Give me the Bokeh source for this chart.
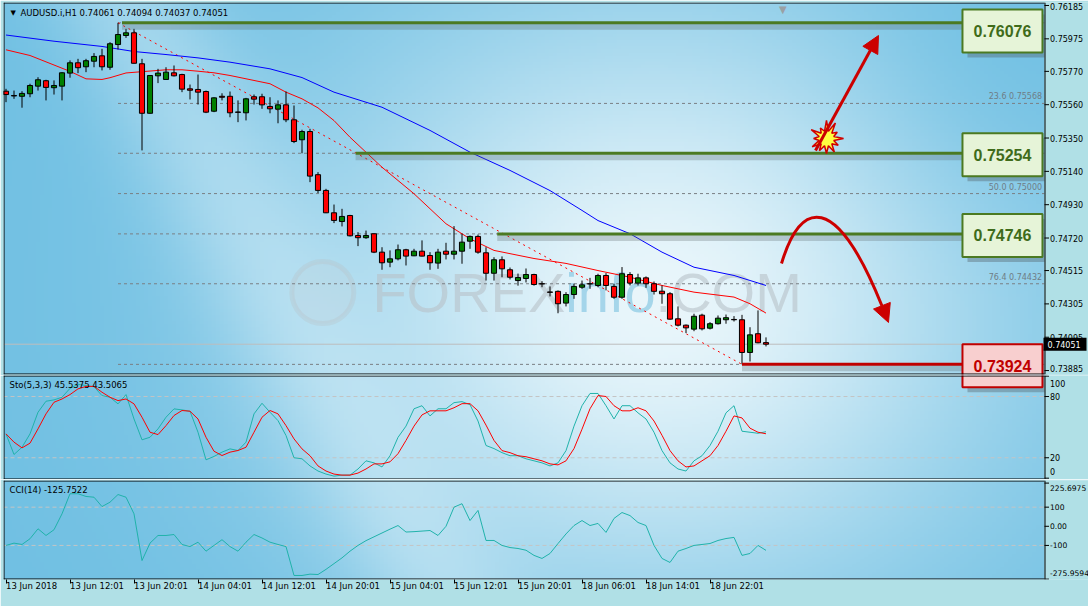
import numpy as np
from bokeh.plotting import figure
from bokeh.layouts import column
from bokeh.models import (Range1d, FixedTicker, Label, Arrow, NormalHead,
                          ColumnDataSource)
from bokeh.core.properties import value
from bokeh.embed import file_html
from bokeh.resources import INLINE

# ---------------------------------------------------------------- data
symbol = "AUDUSD.i"
timeframe = "H1"

opens = [0.75645, 0.75618, 0.75613, 0.75629, 0.75677, 0.75711, 0.75667, 0.75677,
         0.75759, 0.75824, 0.75799, 0.75834, 0.75868, 0.75796, 0.75939, 0.75996,
         0.76013, 0.75818, 0.75506, 0.75742, 0.75719, 0.75761, 0.75750, 0.75660,
         0.75656, 0.75643, 0.75519, 0.75613, 0.75613, 0.75514, 0.75509, 0.75610,
         0.75610, 0.75549, 0.75532, 0.75559, 0.75465, 0.75339, 0.75391, 0.75119,
         0.75020, 0.74879, 0.74824, 0.74862, 0.74736, 0.74722, 0.74747, 0.74631,
         0.74568, 0.74589, 0.74646, 0.74608, 0.74637, 0.74610, 0.74562, 0.74637,
         0.74618, 0.74637, 0.74700, 0.74730, 0.74627, 0.74498, 0.74583, 0.74520,
         0.74452, 0.74465, 0.74490, 0.74432, 0.74380, 0.74384, 0.74310, 0.74364,
         0.74410, 0.74432, 0.74421, 0.74484, 0.74415, 0.74347, 0.74490, 0.74436,
         0.74469, 0.74432, 0.74385, 0.74369, 0.74211, 0.74171, 0.74146, 0.74234,
         0.74152, 0.74180, 0.74205, 0.74207, 0.74205, 0.73999, 0.74117, 0.74061]
highs = [0.75660, 0.75649, 0.75645, 0.75692, 0.75733, 0.75717, 0.75713, 0.75765,
         0.75839, 0.75849, 0.75849, 0.75885, 0.75912, 0.75954, 0.76076, 0.76038,
         0.76038, 0.75849, 0.75746, 0.75786, 0.75796, 0.75807, 0.75755, 0.75687,
         0.75750, 0.75649, 0.75607, 0.75632, 0.75643, 0.75587, 0.75603, 0.75624,
         0.75629, 0.75607, 0.75587, 0.75643, 0.75555, 0.75402, 0.75408, 0.75135,
         0.75030, 0.74931, 0.74904, 0.74866, 0.74757, 0.74767, 0.74750, 0.74662,
         0.74642, 0.74679, 0.74652, 0.74652, 0.74705, 0.74631, 0.74652, 0.74690,
         0.74795, 0.74747, 0.74736, 0.74742, 0.74662, 0.74599, 0.74604, 0.74534,
         0.74496, 0.74528, 0.74495, 0.74448, 0.74415, 0.74390, 0.74379, 0.74432,
         0.74452, 0.74469, 0.74495, 0.74499, 0.74432, 0.74537, 0.74505, 0.74495,
         0.74478, 0.74446, 0.74421, 0.74379, 0.74289, 0.74175, 0.74243, 0.74243,
         0.74190, 0.74232, 0.74238, 0.74228, 0.74236, 0.74158, 0.74264, 0.74094]
lows = [0.75576, 0.75597, 0.75541, 0.75607, 0.75649, 0.75587, 0.75624, 0.75587,
        0.75730, 0.75759, 0.75765, 0.75796, 0.75776, 0.75780, 0.75908, 0.75981,
        0.75820, 0.75272, 0.75504, 0.75696, 0.75717, 0.75738, 0.75639, 0.75593,
        0.75561, 0.75507, 0.75513, 0.75587, 0.75481, 0.75450, 0.75461, 0.75561,
        0.75534, 0.75506, 0.75443, 0.75450, 0.75318, 0.75254, 0.75072, 0.75003,
        0.74877, 0.74814, 0.74793, 0.74730, 0.74669, 0.74715, 0.74625, 0.74520,
        0.74536, 0.74579, 0.74547, 0.74606, 0.74604, 0.74520, 0.74526, 0.74585,
        0.74585, 0.74558, 0.74652, 0.74621, 0.74452, 0.74452, 0.74473, 0.74459,
        0.74420, 0.74440, 0.74420, 0.74410, 0.74352, 0.74246, 0.74289, 0.74337,
        0.74400, 0.74400, 0.74410, 0.74390, 0.74337, 0.74337, 0.74421, 0.74421,
        0.74406, 0.74364, 0.74306, 0.74205, 0.74163, 0.74121, 0.74133, 0.74138,
        0.74144, 0.74175, 0.74180, 0.74194, 0.73924, 0.73942, 0.74057, 0.74037]
closes = [0.75624, 0.75615, 0.75631, 0.75681, 0.75717, 0.75669, 0.75681, 0.75761,
          0.75824, 0.75793, 0.75837, 0.75864, 0.75799, 0.75944, 0.76002, 0.76013,
          0.75821, 0.75506, 0.75744, 0.75759, 0.75765, 0.75742, 0.75658, 0.75651,
          0.75639, 0.75513, 0.75603, 0.75607, 0.75509, 0.75512, 0.75597, 0.75595,
          0.75559, 0.75534, 0.75559, 0.75465, 0.75328, 0.75391, 0.75110, 0.75020,
          0.74879, 0.74831, 0.74856, 0.74734, 0.74722, 0.74736, 0.74631, 0.74564,
          0.74589, 0.74646, 0.74606, 0.74637, 0.74606, 0.74564, 0.74631, 0.74618,
          0.74637, 0.74694, 0.74730, 0.74631, 0.74498, 0.74583, 0.74526, 0.74473,
          0.74471, 0.74490, 0.74427, 0.74431, 0.74378, 0.74306, 0.74364, 0.74415,
          0.74425, 0.74431, 0.74484, 0.74421, 0.74347, 0.74495, 0.74436, 0.74469,
          0.74432, 0.74384, 0.74369, 0.74209, 0.74171, 0.74154, 0.74227, 0.74148,
          0.74180, 0.74215, 0.74218, 0.74205, 0.73999, 0.74110, 0.74060, 0.74051]

# moving averages read at sample bars
ma_red_bars = [0, 3, 8, 10, 12, 13, 15, 17, 20, 22, 24, 26, 28, 33, 35, 37, 39,
               41, 43, 47, 51, 55, 58, 61, 66, 70, 74, 78, 82, 86, 91, 93, 95]
ma_red = [0.75906, 0.75870, 0.75770, 0.75723, 0.75719, 0.75730, 0.75760, 0.75768,
          0.75780, 0.75780, 0.75771, 0.75761, 0.75744, 0.75692, 0.75639, 0.75597,
          0.75540, 0.75460, 0.75355, 0.75166, 0.74999, 0.74810, 0.74715, 0.74642,
          0.74591, 0.74560, 0.74515, 0.74473, 0.74421, 0.74379, 0.74348, 0.74306,
          0.74247]
ma_blue_bars = [0, 6, 12, 16, 20, 24, 28, 33, 37, 41, 47, 53, 58, 63, 68, 72, 74,
                78, 82, 86, 91, 95]
ma_blue = [0.75999, 0.75960, 0.75927, 0.75895, 0.75876, 0.75855, 0.75828, 0.75786,
           0.75731, 0.75639, 0.75544, 0.75398, 0.75261, 0.75146, 0.75019, 0.74894,
           0.74830, 0.74747, 0.74631, 0.74536, 0.74484, 0.74421]

sto_main = [43.4, 23.2, 30.3, 43.4, 64.6, 75.4, 76.7, 79.3,
            88.0, 92.0, 90.7, 89.6, 80.9, 79.3, 72.8, 81.9,
            58.0, 37.6, 40.1, 48.3, 59.7, 67.9, 66.9, 65.6,
            45.0, 18.0, 21.3, 25.5, 28.7, 27.1, 35.3, 63.0,
            73.4, 64.6, 56.4, 41.8, 20.0, 19.0, 12.0, 7.0,
            4.0, 2.0, 3.0, 3.0, 9.0, 17.0, 15.0, 11.0,
            22.0, 40.0, 51.0, 68.0, 71.0, 61.0, 68.0, 68.0,
            74.0, 75.0, 72.0, 56.0, 32.0, 29.0, 25.0, 22.0,
            22.0, 19.0, 17.0, 15.0, 12.0, 15.0, 27.0, 51.0,
            71.0, 83.0, 83.0, 71.0, 58.0, 71.0, 71.0, 64.0,
            58.0, 45.0, 27.0, 15.0, 9.0, 7.0, 17.0, 22.0,
            32.0, 46.0, 64.0, 71.0, 46.0, 45.0, 44.0, 45.5375]
sto_signal = [43.4, 35.3, 29.7, 34.3, 48.3, 63.0, 74.4, 77.6,
              81.9, 87.5, 89.9, 89.9, 84.2, 79.3, 76.0, 77.6,
              72.8, 59.7, 45.0, 42.7, 51.5, 61.4, 66.3, 65.6,
              58.0, 40.1, 26.4, 22.2, 25.5, 27.1, 30.3, 45.0,
              59.7, 66.3, 63.0, 51.5, 38.5, 28.7, 22.0, 12.0,
              7.0, 4.0, 3.0, 3.0, 5.0, 9.0, 14.0, 14.0,
              16.0, 24.0, 37.0, 51.0, 62.0, 66.0, 66.0, 66.0,
              69.0, 73.0, 73.0, 66.0, 52.0, 37.0, 27.0, 25.0,
              22.0, 21.0, 19.0, 17.0, 14.0, 13.0, 17.0, 29.0,
              48.0, 68.0, 81.0, 80.0, 71.0, 66.0, 66.0, 69.0,
              66.0, 56.0, 42.0, 27.0, 17.0, 11.0, 12.0, 17.0,
              22.0, 32.0, 46.0, 61.0, 59.0, 49.0, 45.0, 43.5065]
cci = [-100, -88, -95, -65, -13, -48, -18, 65,
       170, 170, 156, 152, 103, 126, 166, 152,
       65, -179, -88, -48, -48, -43, -95, -106,
       -83, -130, -100, -70, -106, -130, -83, -43,
       -61, -83, -95, -106, -257, -257, -250, -252,
       -225, -195, -165, -130, -100, -75, -55, -35,
       -15, 4, -30, -28, -25, -22, -48, 0,
       100, 118, 30, 83, -74, -74, -100, -111,
       -116, -125, -152, -168, -142, -90, -40, 4,
       30, 4, 15, -32, 41, 72, 56, 20,
       4, -100, -168, -189, -130, -116, -100, -95,
       -90, -74, -64, -58, -152, -142, -100, -125.7522]

time_tick_bars = [0, 8, 16, 24, 32, 40, 48, 56, 64, 72, 80, 88]
time_tick_labels = ["13 Jun 2018", "13 Jun 12:01", "13 Jun 20:01", "14 Jun 04:01",
                    "14 Jun 12:01", "14 Jun 20:01", "15 Jun 04:01", "15 Jun 12:01",
                    "15 Jun 20:01", "18 Jun 06:01", "18 Jun 14:01", "18 Jun 22:01"]
price_ticks = [0.76185, 0.75975, 0.75770, 0.75560, 0.75350, 0.75140, 0.74930,
               0.74720, 0.74515, 0.74305, 0.74095, 0.73885]
sto_ticks = [100, 80, 20, 0]
cci_ticks = [225.6975, 100, 0, -100, -275.9594]
cci_tick_labels = ["225.6975", "100", "0.00", "-100", "-275.9594"]

swing_high_bar, swing_high = 14, 0.76076
swing_low_bar, swing_low = 92, 0.73924
fib_levels = [0.0, 23.6, 38.2, 50.0, 61.8, 76.4, 100.0]
fib_labelled = [23.6, 50.0, 76.4]

key_levels = [0.76076, 0.75254, 0.74746]
key_level_start = [14.5, 43.7, 61.4]
support_level = 0.73924
support_start = 92.0

sto_params = "Sto(5,3,3)"
cci_params = "CCI(14)"

# ---------------------------------------------------------------- layout
FONT = "DejaVu Sans"
FS = "8.5px"
PX_PER_BAR = 8.0
DXP = 1.0 / PX_PER_BAR          # bars per pixel
LEFT = 3                         # canvas px left of the panels
PANEL_W = 1041                   # panel width in px
AXW = 44                         # price-axis strip width in px
X0 = -0.3125
X1 = X0 + PANEL_W * DXP
X1M = X1 + AXW * DXP
FULL_W = PANEL_W + AXW
OUTER = "#b0e0e6"
MAIN_H, STO_H, CCI_H = 372, 104, 99
PY1 = 0.762039
PY0 = PY1 - MAIN_H / 15872.0
PRICE_PX = MAIN_H / (PY1 - PY0)
SY0, SY1 = -1.3, 100.6
CY0, CY1 = -278.0, 239.3
n = len(opens)
assert all(len(a) == n for a in (highs, lows, closes, sto_main, sto_signal, cci))
bars = list(range(n))
shared_x = Range1d(X0, X1M)


def wallpaper(y_top_px, y_bot_px, rows, cols=260):
    xs = np.linspace(3, 1044, cols)
    ys = np.linspace(y_bot_px, y_top_px, rows)
    X, Y = np.meshgrid(xs, ys)
    u = X / 1044.0
    v = Y / 578.0
    f = np.exp(-((u - 0.63) / 0.33) ** 2 - ((v - 0.52) / 0.52) ** 2)
    band = 0.38 * np.exp(-((u - 0.12 - 0.30 * v) / 0.08) ** 2)
    f = np.clip(f + band * (1 - f), 0, 1)
    corner = np.exp(-((u - 1.0) / 0.16) ** 2 - ((v - 0.02) / 0.30) ** 2)
    f = f * (1 - 0.75 * corner)
    dark = np.array([112, 192, 227], dtype=float)
    light = np.array([233, 246, 251], dtype=float)
    rgb = dark[None, None, :] + (light - dark)[None, None, :] * f[..., None]
    img = np.empty((rows, cols, 4), dtype=np.uint8)
    img[..., :3] = np.clip(rgb, 0, 255).astype(np.uint8)
    img[..., 3] = 255
    return img.view(np.uint32).reshape(rows, cols)


def panel(frame_h, y0, y1, top, bottom, x_axis=None):
    fig = figure(frame_width=FULL_W, frame_height=frame_h, x_range=shared_x,
                 y_range=Range1d(y0, y1), x_axis_location=x_axis, y_axis_location=None,
                 min_border_left=LEFT, min_border_right=0, min_border_top=top,
                 min_border_bottom=bottom, title=None, output_backend="svg",
                 toolbar_location=None)
    fig.grid.visible = False
    fig.outline_line_color = None
    fig.border_fill_color = OUTER
    fig.background_fill_color = OUTER
    return fig


def price_axis(fig, y0, y1, frame_h, ticks, labels, top_pad, bot_pad, fs="8px"):
    dy = (y1 - y0) / frame_h
    k = len(ticks)
    fig.quad(left=[X1], right=[X1M], bottom=[y0], top=[y1], fill_color=OUTER,
             line_color=None)
    fig.segment(x0=[X0 + 0.5 * DXP, X0, X0], y0=[y0, y1 - 0.5 * dy, y0 + 0.5 * dy],
                x1=[X0 + 0.5 * DXP, X1, X1], y1=[y1, y1 - 0.5 * dy, y0 + 0.5 * dy],
                line_color="black", line_width=1)
    fig.segment(x0=[X1 + 0.5 * DXP], y0=[y0], x1=[X1 + 0.5 * DXP], y1=[y1],
                line_color="black", line_width=1)
    fig.segment(x0=[X1] * k, y0=ticks, x1=[X1 + 4.5 * DXP] * k, y1=ticks,
                line_color="black", line_width=1)
    ly = [min(max(t, y0 + bot_pad * dy), y1 - top_pad * dy) for t in ticks]
    fig.text(x=[X1 + 5.5 * DXP] * k, y=ly, text=labels, text_font=value(FONT),
             text_font_size=fs, text_color="black", text_baseline="middle")


# ================================================================ main panel
p = panel(MAIN_H, PY0, PY1, top=2, bottom=1)
p.image_rgba(image=[wallpaper(2, 374, 120)], x=X0, y=PY0, dw=X1 - X0, dh=PY1 - PY0,
             level="image")

# watermark
wm_y = PY1 - 290 / PRICE_PX
wm_fs = 56
p.scatter(x=[39.6], y=[wm_y], size=62, marker="circle", fill_color="#c8ced2",
          fill_alpha=0.18, line_color="#b8c2c8", line_alpha=0.35, line_width=5,
          level="underlay")
for txt, xb, col, al in (("FOREX", 45.8, "#b8c2c8", 0.6),
                         ("info", 45.8 + 3.445 * wm_fs * DXP, "#8fcbe4", 0.75),
                         (".COM", 45.8 + (3.445 + 1.612) * wm_fs * DXP, "#b8c2c8", 0.6)):
    p.text(x=[xb], y=[wm_y], text=[txt], text_font=value("Liberation Sans"),
           text_font_size=f"{wm_fs}px", text_color=col, text_alpha=al,
           text_baseline="middle", level="underlay")

# fibonacci dashed levels
rng = swing_high - swing_low
fib_prices = [swing_high - rng * lv / 100.0 for lv in fib_levels]
p.segment(x0=[swing_high_bar] * len(fib_prices), y0=fib_prices,
          x1=[X1] * len(fib_prices), y1=fib_prices,
          line_color="#7a7f84", line_width=1, line_dash="3 3")
for lv, pr in zip(fib_levels, fib_prices):
    if lv in fib_labelled:
        p.text(x=[X1 - 0.3], y=[pr + 2 / PRICE_PX], text=[f"{lv:.1f} {pr:.5f}"],
               text_font=value(FONT), text_font_size="8px", text_color="#6f7d86",
               text_align="right", text_baseline="bottom")

# current price line
p.segment(x0=[X0], y0=[closes[-1]], x1=[X1], y1=[closes[-1]], line_color="#bdbdbd",
          line_width=1)

# trend line through swing high / low
p.line([swing_high_bar, swing_low_bar], [swing_high, swing_low], line_color="red",
       line_width=1, line_dash="2 4")

# moving averages
p.line(ma_blue_bars, ma_blue, line_color="#0000ff", line_width=1)
p.line(ma_red_bars, ma_red, line_color="#ff0000", line_width=1)

# candles
src = ColumnDataSource(dict(
    x=bars, high=highs, low=lows,
    top=[max(o, c) for o, c in zip(opens, closes)],
    bottom=[min(o, c) for o, c in zip(opens, closes)],
    color=["#008000" if c >= o else "#ff0000" for o, c in zip(opens, closes)]))
p.segment(x0="x", y0="low", x1="x", y1="high", source=src, line_color="black", line_width=1)
p.vbar(x="x", width=0.64, top="top", bottom="bottom", fill_color="color",
       line_color="black", line_width=1, source=src)

# key levels with value boxes
box_l, box_r = 119.56, 129.56
box_h = 43 / PRICE_PX
sh_dx, sh_dy = 5 * DXP, 5 / PRICE_PX
levels = key_levels + [support_level]
starts = key_level_start + [support_start]
lcol = ["#4b7a22"] * len(key_levels) + ["#c00000"]
fcol = ["#e6f4d8"] * len(key_levels) + ["#f8cfcf"]
centers = [min(lv - 1.5 / PRICE_PX, PY1 - 7 / PRICE_PX - box_h / 2) for lv in levels]
p.segment(x0=starts, y0=[lv - sh_dy * 0.8 for lv in levels], x1=[box_l] * 4,
          y1=[lv - sh_dy * 0.8 for lv in levels], line_color="#5a6468", line_alpha=0.28,
          line_width=6)
p.quad(left=[box_l + sh_dx] * 4, right=[box_r + sh_dx] * 4,
       top=[cc + box_h / 2 - sh_dy for cc in centers],
       bottom=[cc - box_h / 2 - sh_dy for cc in centers],
       fill_color="#4a5458", fill_alpha=0.35, line_color=None)
p.segment(x0=starts, y0=levels, x1=[box_l] * 4, y1=levels, line_color=lcol, line_width=3)
p.quad(left=[box_l] * 4, right=[box_r] * 4, top=[cc + box_h / 2 for cc in centers],
       bottom=[cc - box_h / 2 for cc in centers], fill_color=fcol, line_color=lcol,
       line_width=2)
p.text(x=[(box_l + box_r) / 2] * 4, y=centers, text=[f"{lv:.5f}" for lv in levels],
       text_font=value("Liberation Sans"), text_font_style="bold",
       text_font_size="16px", text_color=["#3f6b1a"] * 3 + ["#c00000"],
       text_align="center", text_baseline="middle")

# curved scenario arrow body
ARW = "#cc0000"
p.bezier(x0=[96.94], y0=[0.745596], x1=[109.49], y1=[0.742931],
         cx0=[99.31], cy0=[0.749565], cx1=[103.69], cy1=[0.750195],
         line_color=ARW, line_width=3)

# price axis strip with current-price tag
price_axis(p, PY0, PY1, MAIN_H, price_ticks, [f"{t:.5f}" for t in price_ticks],
           top_pad=4, bot_pad=6)
dyp = 1 / PRICE_PX
p.quad(left=[X1 - 1 * DXP], right=[X1 + 42 * DXP], bottom=[closes[-1] - 6.5 * dyp],
       top=[closes[-1] + 6.5 * dyp], fill_color="black", line_color=None)
p.text(x=[X1 + 3 * DXP], y=[closes[-1]], text=[f"{closes[-1]:.5f}"],
       text_font=value(FONT), text_font_size="8px", text_color="white",
       text_baseline="middle")

# scenario arrows and burst
p.add_layout(Arrow(end=NormalHead(size=17, fill_color=ARW, line_color=ARW),
                   x_start=101.19, y_start=0.752715, x_end=109.06, y_end=0.759960,
                   line_color=ARW, line_width=3))
kk = np.arange(24)
ang = np.pi / 2 + kk * 2 * np.pi / 24
rad = np.where(kk % 2 == 0, 15 + 3 * np.cos(kk * 1.7), 7.5)
p.patch(102.56 + rad * np.cos(ang) * DXP, 0.753471 + rad * np.sin(ang) / PRICE_PX,
        fill_color="#ffff40", line_color="#d00000", line_width=1.5)
p.add_layout(Arrow(end=NormalHead(size=18, fill_color=ARW, line_color=ARW),
                   x_start=109.49, y_start=0.742931, x_end=110.31, y_end=0.741879,
                   line_color=ARW, line_width=3))

# header texts
p.add_layout(Label(x=X0, y=PY1, x_offset=7, y_offset=-10, text="\u25bc",
                   text_font=FONT, text_font_size="7px", text_color="black",
                   text_baseline="middle"))
title = f"{symbol},{timeframe} {opens[-1]:.5f} {highs[-1]:.5f} {lows[-1]:.5f} {closes[-1]:.5f}"
p.add_layout(Label(x=X0, y=PY1, x_offset=17, y_offset=-10, text=title, text_font=FONT,
                   text_font_size=FS, text_color="black", text_baseline="middle"))
p.add_layout(Label(x=97.1, y=PY1, y_offset=-1, text="\u25bc", text_font=FONT,
                   text_font_size="10px", text_color="#9aa0a4", text_align="center",
                   text_baseline="top"))

# ================================================================ stochastic panel
s = panel(STO_H, SY0, SY1, top=0, bottom=0)
s.image_rgba(image=[wallpaper(375, 479, 40)], x=X0, y=SY0, dw=X1 - X0, dh=SY1 - SY0,
             level="image")
# lower part of the support value box spills into this panel
spill_px = (PY1 - (centers[-1] - box_h / 2)) * PRICE_PX - MAIN_H - 1
if spill_px > 0:
    sdy = (SY1 - SY0) / STO_H
    s.quad(left=[box_l + sh_dx], right=[box_r + sh_dx], bottom=[SY1 - (spill_px + 5) * sdy],
           top=[SY1 + 2], fill_color="#4a5458", fill_alpha=0.35, line_color=None)
    s.quad(left=[box_l], right=[box_r], bottom=[SY1 - spill_px * sdy], top=[SY1 + 2],
           fill_color=fcol[-1], line_color=lcol[-1], line_width=2)
s.segment(x0=[X0, X0], y0=[20, 80], x1=[X1, X1], y1=[20, 80], line_color="#c4c4c4",
          line_width=1, line_dash="4 3")
s.line(bars, sto_main, line_color="#20b2aa", line_width=1)
s.line(bars, sto_signal, line_color="#ff0000", line_width=1)
price_axis(s, SY0, SY1, STO_H, sto_ticks, [str(t) for t in sto_ticks], top_pad=7.5,
           bot_pad=8)
s.add_layout(Label(x=X0, y=SY1, x_offset=6, y_offset=-9,
                   text=f"{sto_params} {sto_main[-1]:.4f} {sto_signal[-1]:.4f}",
                   text_font=FONT, text_font_size=FS, text_color="black",
                   text_baseline="middle"))

# ================================================================ CCI panel
c = panel(CCI_H, CY0, CY1, top=1, bottom=27, x_axis="below")
c.image_rgba(image=[wallpaper(480, 579, 40)], x=X0, y=CY0, dw=X1 - X0, dh=CY1 - CY0,
             level="image")
c.segment(x0=[X0, X0], y0=[100, -100], x1=[X1, X1], y1=[100, -100], line_color="#c4c4c4",
          line_width=1, line_dash="4 3")
c.line(bars, cci, line_color="#20b2aa", line_width=1)
price_axis(c, CY0, CY1, CCI_H, cci_ticks, cci_tick_labels, top_pad=7, bot_pad=7,
           fs="7.6px")
c.add_layout(Label(x=X0, y=CY1, x_offset=6, y_offset=-9,
                   text=f"{cci_params} {cci[-1]:.4f}",
                   text_font=FONT, text_font_size=FS, text_color="black",
                   text_baseline="middle"))
xa = c.xaxis[0]
xa.ticker = FixedTicker(ticks=time_tick_bars)
xa.major_label_overrides = dict(zip(time_tick_bars, time_tick_labels))
xa.major_label_orientation = -0.0001      # left-aligned labels, as in the terminal
xa.major_label_text_font = FONT
xa.major_label_text_font_size = FS
xa.major_label_text_color = "black"
xa.major_label_standoff = 2
xa.major_tick_out = 4
xa.major_tick_in = 0
xa.minor_tick_line_color = None
xa.axis_line_color = None
xa.major_tick_line_color = "black"

layout = column(p, s, c)
open("out.html", "w").write(file_html(layout, INLINE))
